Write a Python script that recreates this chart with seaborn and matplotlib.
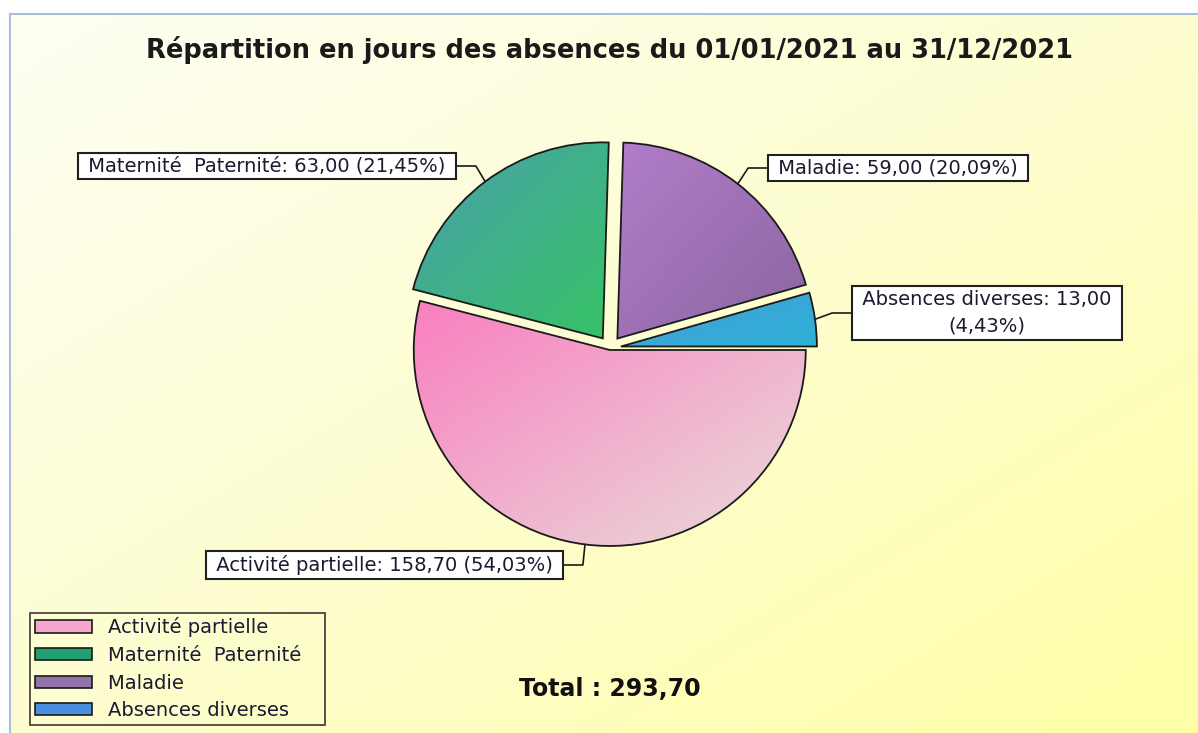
import numpy as np
import matplotlib
matplotlib.use("Agg")
import matplotlib.pyplot as plt
from matplotlib.colors import LinearSegmentedColormap
from matplotlib.patches import Patch
import seaborn as sns

# données
categories = ["Activité partielle", "Maternité  Paternité", "Maladie", "Absences diverses"]
jours = [158.70, 63.00, 59.00, 13.00]
titre = "Répartition en jours des absences du 01/01/2021 au 31/12/2021"

# couleurs (dégradé haut-gauche -> bas-droite)
couleurs_debut = ["#f97fc0", "#4a9fab", "#b27dca", "#4a9bd8"]
couleurs_fin = ["#e9dcd9", "#36c266", "#8a66a0", "#2cb2d6"]
couleurs_legende = ["#f4a6cc", "#22a072", "#9472aa", "#4a8ee0"]


def fmt(v):
    return f"{v:.2f}".replace(".", ",")


total = sum(jours)
etiquettes = [f" {c}: {fmt(v)} ({fmt(v / total * 100)}%) " for c, v in zip(categories, jours)]
etiquettes[3] = f" {categories[3]}: {fmt(jours[3])} \n({fmt(jours[3] / total * 100)}%)"

sns.set_theme(style="white")
plt.rcParams["font.family"] = ["DejaVu Sans"]

W, H = 1198, 733
fig = plt.figure(figsize=(W / 100, H / 100), dpi=100)
fig.patch.set_facecolor("white")

# fond en dégradé
bg = fig.add_axes([10 / W, 0, 1 - 10 / W, (H - 14) / H])
n = 256
u = np.linspace(0, 1, n)
gx, gy = np.meshgrid(u, u)
t = (gx + gy) / 2  # 0 en haut à gauche (origin upper)
cmap_bg = LinearSegmentedColormap.from_list("bg", ["#fffff4", "#fdfdd0", "#ffffa6"])
bg.imshow(t, cmap=cmap_bg, extent=(0, 1, 0, 1), aspect="auto", origin="upper", interpolation="bicubic")
bg.set_xticks([])
bg.set_yticks([])
for s in ["right", "bottom"]:
    bg.spines[s].set_visible(False)
for s in ["left", "top"]:
    bg.spines[s].set_color("#a9bfdc")
    bg.spines[s].set_linewidth(1.5)

# camembert
ax = fig.add_axes([0, 0, 1, 1])
ax.patch.set_alpha(0)
cx, cy, r = 610, H - 348, 196
wedges, _ = ax.pie(jours, center=(cx, cy), radius=r, startangle=0, counterclock=False,
                   explode=[2, 12, 12, 11],
                   wedgeprops=dict(edgecolor="#1a1a1a", linewidth=1.3))

for w, c0, c1 in zip(wedges, couleurs_debut, couleurs_fin):
    ext = w.get_path().get_extents()
    cm = LinearSegmentedColormap.from_list("w", [c0, c1])
    ax.imshow(t, cmap=cm, extent=(ext.x0, ext.x1, ext.y0, ext.y1), origin="upper",
              interpolation="bicubic", clip_path=w, zorder=1.5, aspect="auto")
    w.set_facecolor("none")
    w.set_zorder(2)

ax.set_xlim(0, W)
ax.set_ylim(0, H)
ax.set_aspect("auto")
ax.axis("off")

# étiquettes avec lignes de rappel
positions = [(559, 565, "right"), (452, 166, "right"), (772, 168, "left"), (856, 313, "left")]
fs = 14
pad = 0.2
pad_px = pad * fs * 100 / 72
for w, lab, (tx, ty, ha) in zip(wedges, etiquettes, positions):
    tm = np.deg2rad((w.theta1 + w.theta2) / 2)
    ax_, ay_ = w.center[0] + w.r * np.cos(tm), w.center[1] + w.r * np.sin(tm)
    sign = 1 if ha == "right" else -1
    bx = tx + sign * pad_px
    by = H - ty
    ex = bx + sign * 20
    ax.plot([bx, ex, ax_], [by, by, ay_], color="#1a1a1a", lw=1.2, zorder=3)
    ax.text(tx, by, lab, ha=ha, va="center", multialignment="center", fontsize=fs,
            color="#1a1a30", zorder=4, linespacing=1.5,
            bbox=dict(boxstyle=f"square,pad={pad}", fc="white", ec="#202020", lw=1.5))

ax.text(610, H - 50, titre, ha="center", va="center", fontsize=18.5, fontweight="bold", color="#1a1a1a")
ax.text(610, H - 689, f"Total : {fmt(total)}", ha="center", va="center", fontsize=17,
        fontweight="bold", color="#111111")

handles = [Patch(facecolor=c, edgecolor="#1a1a1a", linewidth=1.2) for c in couleurs_legende]
leg = ax.legend(handles, [c + "   " for c in categories], loc="lower left",
                bbox_to_anchor=(30 / W, 8 / H),
                bbox_transform=fig.transFigure, borderaxespad=0, fontsize=fs,
                frameon=True, fancybox=False, handlelength=2.95, handleheight=0.6,
                labelspacing=0.44, borderpad=0.25, handletextpad=0.8)
leg.get_frame().set_edgecolor("#1a1a1a")
leg.get_frame().set_facecolor("none")
leg.get_frame().set_linewidth(1.3)
for txt in leg.get_texts():
    txt.set_color("#1a1a30")

fig.savefig("out.png", dpi=100)
